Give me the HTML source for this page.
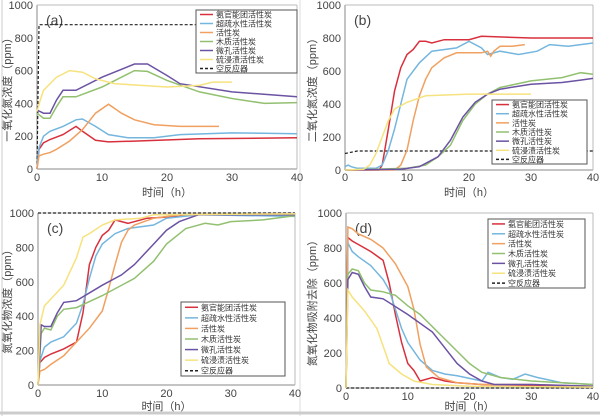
<!DOCTYPE html>
<html><head><meta charset="utf-8"><style>
body{margin:0;background:#fff}
svg{display:block}
text{font-family:"Liberation Sans","Noto Sans CJK SC",sans-serif;fill:#444}
.t{font-size:11px}
.lg{font-size:8px;fill:#333}
</style></head><body>
<svg id="s" width="600" height="416" xmlns="http://www.w3.org/2000/svg">
<rect width="600" height="416" fill="#fff"/>
<line x1="2" y1="0" x2="2" y2="416" stroke="#ccc"/>
<line x1="300" y1="0" x2="300" y2="416" stroke="#ddd"/>
<line x1="0" y1="413" x2="600" y2="413" stroke="#ccc" stroke-width="3"/>
</svg>
<script>
const S=document.getElementById('s'),NS='http://www.w3.org/2000/svg';
function el(t,a,txt){const e=document.createElementNS(NS,t);for(const k in a)e.setAttribute(k,a[k]);if(txt!==undefined)e.textContent=txt;S.appendChild(e);return e;}
const C={r:'#d8303c',b:'#74b6de',o:'#f0a060',g:'#92c070',p:'#6b52a3',y:'#f6e27e'};
const names=['氨官能团活性炭','超疏水性活性炭','活性炭','木质活性炭','微孔活性炭','硫浸渍活性炭','空反应器'];
function panel(P){
 const {x0,x1,y0,y1}=P;const X=t=>x0+(x1-x0)*t/40,Y=v=>y0-(y0-y1)*v/1000;
 el('line',{x1:x0,y1:y1,x2:x0,y2:y0,stroke:'#888'});
 el('line',{x1:x0,y1:y0,x2:x1,y2:y0,stroke:'#888'});
 el('line',{x1:x1,y1:y1,x2:x1,y2:y0,stroke:'#bbb'});
 el('line',{x1:x0,y1:y1,x2:x1,y2:y1,stroke:'#bbb'});
 for(let v=0;v<=1000;v+=200){el('text',{x:x0-4,y:Y(v)+4,'text-anchor':'end',class:'t'},v);}
 for(let t=0;t<=40;t+=10){el('text',{x:X(t),y:P.ty,'text-anchor':'middle',class:'t'},t);}
 el('text',{x:(x0+x1)/2,y:P.tt,'text-anchor':'middle',class:'t'},'时间（h）');
 const yc=(y0+y1)/2;el('text',{x:P.yl,y:yc,'text-anchor':'middle',class:'t',transform:`rotate(-90 ${P.yl} ${yc})`},P.ylab);
 el('text',{x:x0+(P.lx||9),y:y1+20,class:'t',style:'font-size:14px'},P.lab);
 for(const [k,d] of P.s){let pts=[];for(let i=0;i<d.length;i+=2)pts.push(X(d[i]).toFixed(1)+','+Y(d[i+1]).toFixed(1));
  el('polyline',{points:pts.join(' '),fill:'none',stroke:k=='k'?'#222':C[k],'stroke-width':k=='k'?1.2:1.5,'stroke-dasharray':k=='k'?'3,2':'none'});}
 const L=P.L;el('rect',{x:L[0],y:L[1],width:L[2],height:L[3],fill:'#fff',stroke:'#555'});
 const ks=['r','b','o','g','p','y','k'];const h=L[3]/7;
 ks.forEach((k,i)=>{const yy=L[1]+h*(i+0.5);el('line',{x1:L[0]+4,y1:yy,x2:L[0]+17,y2:yy,stroke:k=='k'?'#222':C[k],'stroke-width':1.5,'stroke-dasharray':k=='k'?'3,2':'none'});el('text',{x:L[0]+20,y:yy+3,class:'lg'},names[i]);});
}
panel({x0:37,x1:297,y0:169,y1:5,ty:181,tt:196,yl:11,ylab:'一氧化氮浓度（ppm）',lab:'(a)',L:[196,10,101,63],s:[
['k',[0,0,0.3,880,40,880]],
['r',[0,0,0.3,120,1,160,2,180,4,210,6,260,7,230,9,175,11,165,15,170,25,185,40,190]],
['b',[0,0,0.3,130,1,200,2,230,4,260,6,300,7,305,9,260,11,210,14,190,18,190,22,210,30,220,40,215]],
['o',[0,0,0.3,80,1,90,2,100,3,120,5,170,7,240,9,340,11,395,13,340,15,300,18,270,22,260,28,260]],
['g',[0,340,1,310,2,310,3,380,4,440,6,440,10,500,15,600,17,595,20,540,25,470,30,430,35,400,40,405]],
['p',[0,360,1,340,2,340,3,420,4,480,6,480,10,560,15,640,17,640,20,570,22,520,30,470,40,440]],
['y',[0,350,0.5,420,1,480,3,560,5,600,7,590,9,550,12,520,20,500,25,510,27,530,30,530]]]});
panel({x0:345,x1:593,y0:170,y1:5,ty:181,tt:196,yl:316,ylab:'二氧化氮浓度（ppm）',lab:'(b)',L:[492,100,95,64],s:[
['k',[0,100,2,115,40,115]],
['r',[0,0,5.5,0,6,30,7,250,8,480,9,620,10,700,11,730,12,780,13,780,14,770,16,790,20,790,22,810,30,800,40,800]],
['b',[0,20,0.5,30,1,20,2,10,5,10,6,30,7,120,8,250,9,400,10,550,12,650,14,720,18,740,20,780,22,740,23,700,25,720,28,700,31,720,33,760,36,750,40,770]],
['o',[0,0,8,0,9,30,10,120,11,300,12,450,13,550,14,620,16,680,18,710,22,710,23,720,23.5,690,24,720,25,750,27,750,29,760]],
['g',[0,0,10,10,13,30,15,80,17,150,19,300,21,400,23,460,25,500,30,540,35,560,38,590,40,580]],
['p',[0,0,9,5,12,20,15,80,17,180,19,320,21,410,23,460,25,490,30,520,35,530,38,545,40,555]],
['y',[0,0,3,5,4,30,5,100,6,200,7,300,8,370,10,410,13,450,20,460,30,460]]]});
panel({x0:38,x1:295,y0:385,y1:213,ty:397,tt:410,yl:11,ylab:'氮氧化物浓度（ppm）',lab:'(c)',L:[181,302,104,74],s:[
['k',[0,1000,40,1000]],
['r',[0,0,0.3,130,1,160,2,180,4,210,6,250,7,420,8,700,9,800,10,870,11,900,12,960,13,950,14,940,17,970,22,980,25,990,40,990]],
['b',[0,0,0.3,140,1,220,2,250,4,280,6,360,7,470,8,620,9,750,10,820,12,880,14,910,16,920,18,930,20,970,25,990,40,980]],
['o',[0,0,0.3,80,1,90,2,120,4,170,6,250,8,330,10,430,11,560,12,700,13,830,14,900,15,930,18,970,22,990,40,995]],
['g',[0,0,0.5,300,1,330,2,320,3,400,4,440,6,450,10,520,15,620,18,720,20,820,23,910,24,920,26,940,28,930,30,950,35,960,40,985]],
['p',[0,0,0.5,350,1,340,2,340,3,420,4,480,6,490,10,580,13,640,15,700,18,820,20,900,22,950,25,990,40,990]],
['y',[0,0,0.3,350,1,460,2,500,4,580,6,740,7,860,8,880,10,930,12,960,16,970,18,990,40,995]]]});
panel({x0:346,x1:593,y0:388,y1:213,ty:400,tt:410,yl:316,ylab:'氮氧化物吸附去除（ppm）',lab:'(d)',L:[488,219,97,69],s:[
['k',[0,0,40,0]],
['r',[0,0,0.3,860,1,840,2,820,4,780,6,730,7,600,8,420,9,260,10,140,11,100,12,40,14,60,16,40,18,30,22,20,30,15,40,10]],
['b',[0,0,0.3,830,1,780,2,750,4,700,6,620,7,560,8,450,9,340,10,260,12,160,14,100,16,80,18,70,22,40,23,90,25,60,27,50,29,80,31,60,35,30,40,20]],
['o',[0,0,0.3,920,1,910,2,880,4,850,6,800,8,710,10,580,11,450,12,250,13,120,15,60,18,30,22,20,30,20,40,10]],
['g',[0,0,0.3,650,1,680,2,670,3,600,4,560,6,550,8,530,10,470,12,420,16,280,20,140,22,90,25,60,30,40,35,30,40,20]],
['p',[0,0,0.3,620,1,660,2,650,3,580,4,520,6,510,10,420,14,320,16,230,18,140,20,80,22,40,24,20,30,20,40,10]],
['y',[0,0,0.3,560,1,520,3,440,5,340,6,240,7,140,9,80,11,40,14,20,20,10,40,5]]]});
</script>
</body></html>
